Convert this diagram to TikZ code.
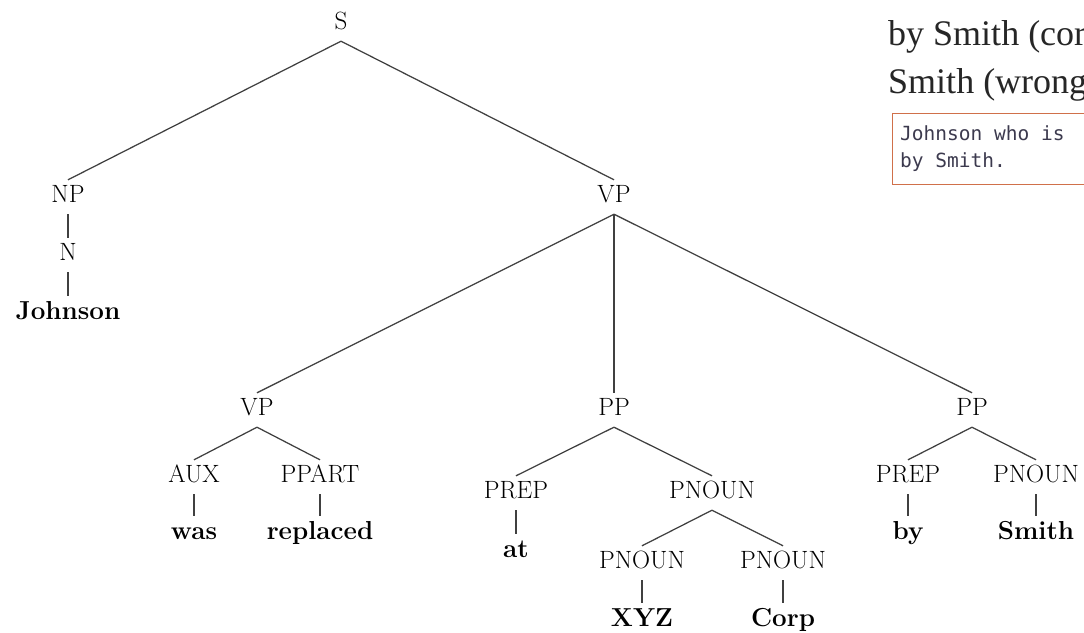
\documentclass[tikz,border=0pt]{standalone}
\usepackage{fontspec}
\newfontfamily\garfont{Liberation Serif}
\newfontfamily\codefont{DejaVu Sans Mono}
\definecolor{boxorange}{HTML}{D0704A}
\definecolor{codegray}{HTML}{3C3A4E}
\newcommand\tedge[2]{\draw[branch] ([yshift=-12pt]#1.south) -- ([yshift=5pt]#2.north);}
\begin{document}
\begin{tikzpicture}[x=1pt,y=-1pt,
  lab/.style={inner sep=0pt, anchor=base, text height=17pt, text depth=0pt, font=\fontsize{25}{30}\selectfont, text=black},
  word/.style={inner sep=0pt, anchor=base, text height=18pt, text depth=0pt, font=\fontsize{26}{30}\selectfont\bfseries, text=black},
  branch/.style={draw=black!75, line width=1.25pt},
  note/.style={anchor=base west, inner sep=0pt, font=\garfont\fontsize{36}{40}\selectfont, text=black!85},
  code/.style={anchor=base west, inner sep=0pt, font=\codefont\fontsize{19.5}{22}\selectfont, text=codegray}]
\useasboundingbox (0,0) rectangle (1084,632);

% tree nodes
\node[lab] (S) at (341,29) {S};
\node[lab] (NP) at (68,202) {NP};
\node[lab] (N) at (68,260) {N};
\node[word] (Johnson) at (68,319) {Johnson};
\node[lab] (VP) at (614,202) {VP};
\node[lab] (VPa) at (257,415) {VP};
\node[lab] (PPa) at (614,415) {PP};
\node[lab] (PPb) at (972,415) {PP};
\node[lab] (AUX) at (194,482) {AUX};
\node[lab] (PPART) at (320,482) {PPART};
\node[word] (was) at (194,539) {was};
\node[word] (replaced) at (320,539) {replaced};
\node[lab] (PREPa) at (516,498) {PREP};
\node[lab] (PNa) at (712,498) {PNOUN};
\node[word] (at) at (516,557) {at};
\node[lab] (PNb) at (642,568) {PNOUN};
\node[lab] (PNc) at (783,568) {PNOUN};
\node[word] (XYZ) at (642,626) {XYZ};
\node[word] (Corp) at (783,626) {Corp};
\node[lab] (PREPb) at (908,482) {PREP};
\node[lab] (PNd) at (1036,482) {PNOUN};
\node[word] (by) at (908,539) {by};
\node[word] (Smith) at (1036,539) {Smith};

% branches
\tedge{S}{NP}
\tedge{S}{VP}
\tedge{NP}{N}
\tedge{N}{Johnson}
\tedge{VP}{VPa}
\tedge{VP}{PPa}
\tedge{VP}{PPb}
\tedge{VPa}{AUX}
\tedge{VPa}{PPART}
\tedge{AUX}{was}
\tedge{PPART}{replaced}
\tedge{PPa}{PREPa}
\tedge{PPa}{PNa}
\tedge{PREPa}{at}
\tedge{PNa}{PNb}
\tedge{PNa}{PNc}
\tedge{PNb}{XYZ}
\tedge{PNc}{Corp}
\tedge{PPb}{PREPb}
\tedge{PPb}{PNd}
\tedge{PREPb}{by}
\tedge{PNd}{Smith}

% top-right excerpt (cut off at the picture's edge, as in the reference)
\node[note] (t1) at (888,45) {by Smith (cor};
\node[note] (t2) at (888,93) {Smith (wrong};
\node[draw=boxorange, line width=1.4pt, anchor=north west, minimum width=210pt, minimum height=71pt, inner sep=0pt] (box) at (892,113) {};
\node[code] (c1) at (900,140) {Johnson who is};
\node[code] (c2) at (900,167) {by Smith.};
\end{tikzpicture}
\end{document}
